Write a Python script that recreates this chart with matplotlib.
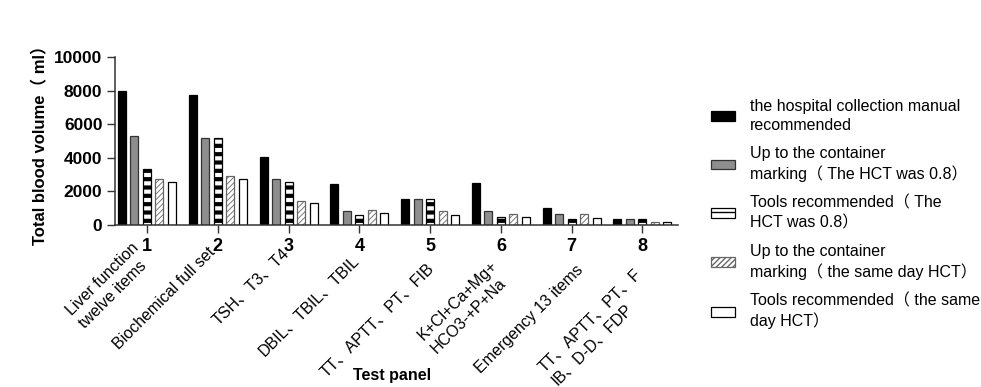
import matplotlib
matplotlib.use('Agg')
import matplotlib.pyplot as plt
import numpy as np


#data
groups = ['1', '2', '3', '4', '5', '6', '7', '8']
panels = ['Liver function\ntwelve items', 'Biochemical full set', 'TSH、T3、T4',
          'DBIL、TBIL、TBIL', 'TT、APTT、PT、FIB', 'K+Cl+Ca+Mg+\nHCO3-+P+Na',
          'Emergency 13 items', 'TT、APTT、PT、F\nIB、D-D、FDP']

manual = [7950, 7720, 4060, 2420, 1550, 2480, 1010, 340]
marking_08 = [5300, 5160, 2720, 820, 1550, 820, 670, 340]
tools_08 = [3330, 5160, 2560, 580, 1550, 480, 380, 340]
marking_day = [2760, 2930, 1450, 870, 820, 640, 640, 200]
tools_day = [2560, 2720, 1290, 700, 580, 480, 430, 160]

labels = ['the hospital collection manual\nrecommended',
          'Up to the container\nmarking（ The HCT was 0.8）',
          'Tools recommended（ The\nHCT was 0.8）',
          'Up to the container\nmarking（ the same day HCT）',
          'Tools recommended（ the same\nday HCT）']

series = [manual, marking_08, tools_08, marking_day, tools_day]

#bar styles
styles = [
    dict(color='black', edgecolor='black', hatch=None, hlw=1.0),
    dict(color='#8e8e8e', edgecolor='#333333', hatch=None, hlw=1.0),
    dict(color='white', edgecolor='black', hatch='--', hlw=3.0),
    dict(color='white', edgecolor='#666666', hatch='//////', hlw=0.6),
    dict(color='white', edgecolor='black', hatch=None, hlw=1.0),
]

#label placement below the axis (pixels)
lab_dx = [-16, -10, -7, -8, -4, -11, 4, -9]
lab_dy = [15, 19, 20, 27, 35, 33, 37, 41]

plt.rcParams['font.family'] = ['Liberation Sans', 'Noto Sans CJK SC', 'DejaVu Sans']


def plot():

    fig = plt.figure(figsize=(9.81, 3.87), dpi=100)
    ax = fig.add_axes([0.1172, 0.4186, 0.5738, 0.4341])

    x = np.arange(1, len(groups) + 1)
    step = 0.1765
    width = 0.113

    for j, (vals, st, lab) in enumerate(zip(series, styles, labels)):
        with plt.rc_context({'hatch.linewidth': st['hlw']}):
            bars = ax.bar(x + (j - 2) * step, vals, width=width, color=st['color'],
                          edgecolor=st['edgecolor'], hatch=st['hatch'],
                          linewidth=0.9, label=lab)
        for b in bars:
            if hasattr(b, 'set_hatch_linewidth'):
                b.set_hatch_linewidth(st['hlw'])

    ax.set_xlim(0.548, 8.5)
    ax.set_ylim(0, 10000)
    ax.set_yticks([0, 2000, 4000, 6000, 8000, 10000])
    ax.set_xticks(x)
    ax.set_xticklabels(groups, fontweight='bold', fontsize=13)
    for t in ax.get_yticklabels():
        t.set_fontweight('bold')
        t.set_fontsize(12.5)
    ax.tick_params(length=6, width=1, pad=3, color='#333333')

    for s in ['top', 'right']:
        ax.spines[s].set_visible(False)
    for s in ['left', 'bottom']:
        ax.spines[s].set_linewidth(1.1)
        ax.spines[s].set_color('#333333')

    ax.set_ylabel('Total blood volume（ ml）', fontweight='bold', fontsize=12, labelpad=4)

    #rotated panel names under the numbers
    for xi, name, dx, dy in zip(x, panels, lab_dx, lab_dy):
        ax.annotate(name, xy=(xi, 0), xycoords=('data', 'axes fraction'),
                    xytext=(dx * 0.72, -dy * 0.72), textcoords='offset points',
                    rotation=45, rotation_mode='anchor', ha='right', va='top',
                    multialignment='left', fontsize=11.5, linespacing=1.3)

    fig.text(0.4, 0.03, 'Test panel', fontweight='bold', fontsize=11.5, ha='center', va='center')

    leg = ax.legend(loc='upper left', bbox_to_anchor=(0.725, 0.745), bbox_transform=fig.transFigure,
                    frameon=False, fontsize=11.5, handlelength=1.5, handleheight=0.55,
                    handletextpad=0.9, labelspacing=0.85, borderpad=0, borderaxespad=0)
    for t in leg.get_texts():
        t.set_linespacing(1.32)

    fig.savefig('out.png', dpi=100)


if __name__ == '__main__':
    plot()
